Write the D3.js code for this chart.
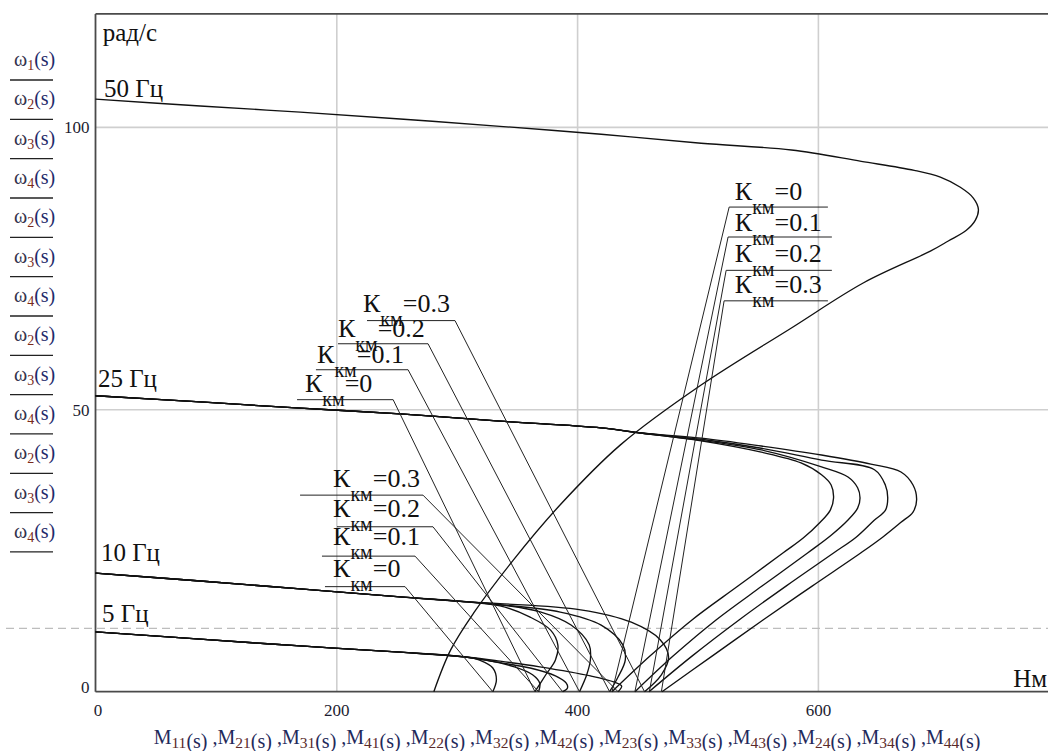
<!DOCTYPE html>
<html><head><meta charset="utf-8">
<script src="https://cdn.jsdelivr.net/npm/d3@7"></script>
<style>
body{margin:0;background:#fff;}
svg{display:block;font-family:"Liberation Serif","Times New Roman",serif;}
</style></head><body>
<svg id="chart" width="1048" height="751"></svg>
<script>
// Mechanical characteristics ω(M) of the drive at 50, 25, 10 and 5 Гц
// for compensation factors К_км = 0 … 0.3.

// tick values
const xTicks = [0, 200, 400, 600];
const yTicks = [0, 50, 100];
const kValues = ["0", "0.1", "0.2", "0.3"];

// 50 Гц
const M11 = [0, 87, 170, 253, 336, 420, 503, 578, 636, 680, 701.7, 718.3, 729.1, 733.3, 730.8, 723.3, 708.3, 693.4, 638, 578, 503, 436, 386, 347, 314, 295, 281];
const W11 = [104.9, 103.7, 102.6, 101.4, 100.1, 98.7, 97.1, 95.9, 93.9, 92.3, 91.1, 89.3, 87.4, 85.4, 83.5, 81.7, 79.8, 78.0, 72.4, 64.4, 54.3, 43.7, 33.1, 23.3, 13.9, 7.4, 0];

// 25 Гц, К_км = 0, 0.1, 0.2, 0.3
const M21 = [0, 87, 170, 253, 336, 420, 453, 503, 553, 586, 603, 611, 613, 610.2, 601.9, 587.8, 571.2, 533.6, 495.4, 460.5, 429];
const W21 = [52.4, 51.3, 50.2, 49.2, 47.9, 46.7, 45.8, 44.4, 42.4, 40.5, 38.4, 36.6, 34.3, 32.1, 30.0, 27.2, 24.6, 18.7, 12.7, 6.3, 0];
const M22 = [0, 87, 170, 253, 336, 420, 453, 503, 553, 603, 625, 633, 635, 633, 625, 611, 591.7, 553.6, 515.4, 479.7, 448.1];
const W22 = [52.4, 51.3, 50.2, 49.2, 47.9, 46.7, 45.8, 44.5, 42.8, 39.8, 38.0, 36.1, 34.3, 32.5, 30.4, 27.7, 24.6, 18.7, 12.7, 6.3, 0];
const M23 = [0, 87, 170, 253, 336, 420, 453, 503, 553, 603, 647, 656, 658, 656, 647, 632, 613.3, 573.5, 534.5, 495.4, 459.7];
const W23 = [52.4, 51.3, 50.2, 49.2, 47.9, 46.7, 45.8, 44.7, 43.1, 41.0, 39.3, 36.6, 34.3, 32.1, 30.4, 27.4, 24.6, 18.7, 12.7, 6.3, 0];
const M24 = [0, 87, 170, 253, 336, 420, 453, 503, 553, 603, 644, 669, 679, 682, 679, 669, 654, 635.8, 595.2, 554.4, 512.1, 470.5];
const W24 = [52.4, 51.3, 50.2, 49.2, 47.9, 46.7, 45.8, 44.9, 43.5, 41.9, 40.3, 38.9, 36.6, 34.0, 31.8, 30.0, 27.4, 24.6, 18.7, 12.7, 6.3, 0];

// 10 Гц
const M31 = [0, 87, 170, 253, 309, 336, 361, 378, 384, 382, 374, 365];
const W31 = [21.0, 19.6, 18.2, 16.8, 15.9, 15.2, 13.2, 10.9, 8.3, 5.6, 3.0, 0];
const M32 = [0, 87, 170, 253, 309, 336, 370, 395, 410, 411, 408, 402];
const W32 = [21.0, 19.6, 18.2, 16.8, 15.9, 15.4, 14.1, 11.8, 8.3, 5.6, 3.0, 0];
const M33 = [0, 87, 170, 253, 309, 336, 386, 420, 438, 440, 434, 427];
const W33 = [21.0, 19.6, 18.2, 16.8, 15.9, 15.4, 14.1, 11.8, 8.3, 5.6, 2.6, 0];
const M34 = [0, 87, 170, 253, 309, 336, 403, 445, 469, 476, 470, 456];
const W34 = [21.0, 19.6, 18.2, 16.8, 15.9, 15.6, 14.5, 12.3, 9.2, 6.1, 3.0, 0];

// 5 Гц
const M41 = [0, 87, 170, 253, 309, 319, 330, 333, 330];
const W41 = [10.6, 9.3, 8.1, 7.0, 6.1, 5.6, 4.2, 2.1, 0];
const M42 = [0, 87, 170, 253, 309, 324, 348, 363, 369, 368];
const W42 = [10.6, 9.3, 8.1, 7.0, 6.1, 5.6, 4.4, 3.0, 1.5, 0];
const M43 = [0, 87, 170, 253, 309, 328, 361, 382, 391, 392, 388];
const W43 = [10.6, 9.3, 8.1, 7.0, 6.1, 5.4, 4.2, 2.8, 1.5, 0.65, 0];
const M44 = [0, 87, 170, 253, 309, 336, 369, 411, 431, 437, 434];
const W44 = [10.6, 9.3, 8.1, 7.0, 6.1, 5.4, 4.4, 2.8, 1.7, 1.0, 0];

const markerW = 11.2;   // horizontal marker, рад/с

const series = [
  [M11, W11],
  [M21, W21], [M31, W31], [M41, W41],
  [M22, W22], [M32, W32], [M42, W42],
  [M23, W23], [M33, W33], [M43, W43],
  [M24, W24], [M34, W34], [M44, W44]
];

const yNames = ["1","2","3","4","2","3","4","2","3","4","2","3","4"];
const xNames = ["11","21","31","41","22","32","42","23","33","43","24","34","44"];

// frequency captions: text, M, ω (baseline)
const freqCaptions = [
  {t: "50 Гц", m: 7, w: 105.3},
  {t: "25 Гц", m: 2, w: 53.9},
  {t: "10 Гц", m: 4.5, w: 23.1},
  {t: "5 Гц", m: 5.5, w: 12.3}
];

// К_км callouts: text start, underline, leader end (all in M / ω units)
const callouts = [
  // 25 Гц group, leaders drop to the left
  {k: 0, tx: 531, ty: 87.1, x1: 526.3, x2: 608.3, uy: 85.8, side: "l", ex: 429, ew: 0},
  {k: 1, tx: 531, ty: 81.6, x1: 525.4, x2: 611.6, uy: 80.5, side: "l", ex: 448, ew: 0},
  {k: 2, tx: 531, ty: 76.1, x1: 523.8, x2: 611.6, uy: 74.6, side: "l", ex: 460, ew: 0},
  {k: 3, tx: 531, ty: 70.6, x1: 522.1, x2: 608.3, uy: 69.2, side: "l", ex: 470, ew: 0},
  // 10 Гц group
  {k: 3, tx: 222.2, ty: 67.2, x1: 225.5, x2: 298.6, uy: 65.7, side: "r", ex: 456, ew: 0},
  {k: 2, tx: 201.4, ty: 62.8, x1: 201.4, x2: 276.2, uy: 61.6, side: "r", ex: 427, ew: 0},
  {k: 1, tx: 184.0, ty: 58.2, x1: 183.1, x2: 259.6, uy: 57.0, side: "r", ex: 402, ew: 0},
  {k: 0, tx: 174.0, ty: 53.1, x1: 167.4, x2: 247.2, uy: 51.7, side: "r", ex: 365, ew: 0},
  // 5 Гц group
  {k: 3, tx: 197.3, ty: 36.2, x1: 169.9, x2: 272.0, uy: 34.8, side: "r", ex: 434, ew: 0},
  {k: 2, tx: 197.3, ty: 30.9, x1: 200.6, x2: 280.3, uy: 29.2, side: "r", ex: 388, ew: 0},
  {k: 1, tx: 197.3, ty: 26.0, x1: 188.1, x2: 265.4, uy: 24.0, side: "r", ex: 368, ew: 0},
  {k: 0, tx: 197.3, ty: 20.3, x1: 190.6, x2: 257.1, uy: 18.6, side: "r", ex: 330, ew: 0}
];

// ---------- drawing ----------
const svg = d3.select("#chart");
const plotLeft = 95.5, plotBottom = 691.7, plotTop = 13.9, plotRight = 1048;
const x = d3.scaleLinear().domain([0, 800]).range([plotLeft, plotLeft + 800 * 1.204]);
const y = d3.scaleLinear().domain([0, 120]).range([plotBottom, plotTop]);

const inkDark = "#1c1c30";

// grid
const grid = svg.append("g");
grid.append("g")
  .attr("transform", `translate(0,${plotTop})`)
  .call(d3.axisBottom(x).tickValues(xTicks.filter(d => d > 0)).tickSize(plotBottom - plotTop).tickFormat(""))
  .call(g => g.select(".domain").remove())
  .call(g => g.selectAll("line").attr("stroke", "#cfcfcf").attr("stroke-width", 1.6));
grid.append("g")
  .attr("transform", `translate(${plotLeft},0)`)
  .call(d3.axisRight(y).tickValues(yTicks.filter(d => d > 0)).tickSize(plotRight - plotLeft).tickFormat(""))
  .call(g => g.select(".domain").remove())
  .call(g => g.selectAll("line").attr("stroke", "#cfcfcf").attr("stroke-width", 1.6));

// dashed marker
svg.append("line")
  .attr("x1", 6).attr("x2", plotRight)
  .attr("y1", y(markerW)).attr("y2", y(markerW))
  .attr("stroke", "#bdbdbd").attr("stroke-width", 1.3)
  .attr("stroke-dasharray", "8,5");

// frame
const frame = svg.append("g").attr("stroke", "#4a4a4a").attr("stroke-width", 1.8);
frame.append("line").attr("x1", plotLeft).attr("x2", plotLeft).attr("y1", plotTop).attr("y2", plotBottom);
frame.append("line").attr("x1", plotLeft).attr("x2", plotRight).attr("y1", plotBottom).attr("y2", plotBottom);
frame.append("line").attr("x1", plotLeft).attr("x2", plotRight).attr("y1", plotTop).attr("y2", plotTop);

// tick labels
const xAx = svg.append("g").attr("transform", `translate(0,${plotBottom})`)
  .call(d3.axisBottom(x).tickValues(xTicks).tickSize(0).tickPadding(12).tickFormat(d3.format("d")));
xAx.select(".domain").remove();
xAx.selectAll("text").attr("font-family", "Liberation Serif").attr("font-size", 17).attr("fill", inkDark)
  .attr("dx", d => d === 0 ? 2 : 0);
const yAx = svg.append("g").attr("transform", `translate(${plotLeft},0)`)
  .call(d3.axisLeft(y).tickValues(yTicks).tickSize(0).tickPadding(6).tickFormat(d3.format("d")));
yAx.select(".domain").remove();
yAx.selectAll("text").attr("font-family", "Liberation Serif").attr("font-size", 17).attr("fill", inkDark)
  .attr("dy", d => d === 0 ? "0.05em" : "0.35em");

// curves
const line = d3.line()
  .x(d => x(d[0])).y(d => y(d[1]))
  .curve(d3.curveCatmullRom.alpha(0.5));
svg.append("g").selectAll("path").data(series).join("path")
  .attr("d", s => line(s[0].map((m, i) => [m, s[1][i]])))
  .attr("fill", "none").attr("stroke", "#111").attr("stroke-width", 1.35);

// callouts
const cg = svg.append("g");
callouts.forEach(c => {
  const sx = c.side === "l" ? c.x1 : c.x2;
  cg.append("line")
    .attr("x1", x(c.x1)).attr("x2", x(c.x2)).attr("y1", y(c.uy)).attr("y2", y(c.uy))
    .attr("stroke", "#222").attr("stroke-width", 1);
  cg.append("line")
    .attr("x1", x(sx)).attr("y1", y(c.uy)).attr("x2", x(c.ex)).attr("y2", y(c.ew))
    .attr("stroke", "#222").attr("stroke-width", 1);
  const t = cg.append("text").attr("x", x(c.tx)).attr("y", y(c.ty))
    .attr("font-size", 26).attr("fill", "#111");
  t.append("tspan").text("К");
  t.append("tspan").attr("dy", 14).attr("font-size", 20).text("км");
  t.append("tspan").attr("dy", -14).text("=" + kValues[c.k]);
});

// captions
svg.append("text").attr("x", x(6)).attr("y", y(115.2)).attr("font-size", 25).attr("fill", "#111").text("рад/с");
freqCaptions.forEach(f => {
  svg.append("text").attr("x", x(f.m)).attr("y", y(f.w)).attr("font-size", 25).attr("fill", "#111").text(f.t);
});
svg.append("text").attr("x", 1047).attr("y", y(0.8)).attr("text-anchor", "end")
  .attr("font-size", 25).attr("fill", "#111").text("Нм");

// y legend stack
const leg = svg.append("g");
yNames.forEach((n, i) => {
  const base = 66 + i * 39.33;
  const t = leg.append("text").attr("x", 14).attr("y", base).attr("font-size", 20);
  t.append("tspan").attr("fill", "#33334d").text("ω");
  t.append("tspan").attr("dy", 4).attr("font-size", 14).attr("fill", "#7a2a1a").text(n);
  t.append("tspan").attr("dy", -4).attr("fill", "#1f2a6b").text("(s)");
  leg.append("line").attr("x1", 10).attr("x2", 53).attr("y1", base + 14).attr("y2", base + 14)
    .attr("stroke", "#222").attr("stroke-width", 1.3);
});

// x legend line
const xl = svg.append("text").attr("x", 567).attr("y", 744).attr("text-anchor", "middle")
  .attr("font-size", 20).attr("fill", "#1f2a5b");
xNames.forEach((n, i) => {
  xl.append("tspan").attr("dy", i === 0 ? 0 : -4).text((i === 0 ? "" : " ,") + "M");
  xl.append("tspan").attr("dy", 4).attr("font-size", 15.5).attr("fill", "#5a2a2a").text(n);
  xl.append("tspan").text("(s)");
});
</script>
</body></html>
